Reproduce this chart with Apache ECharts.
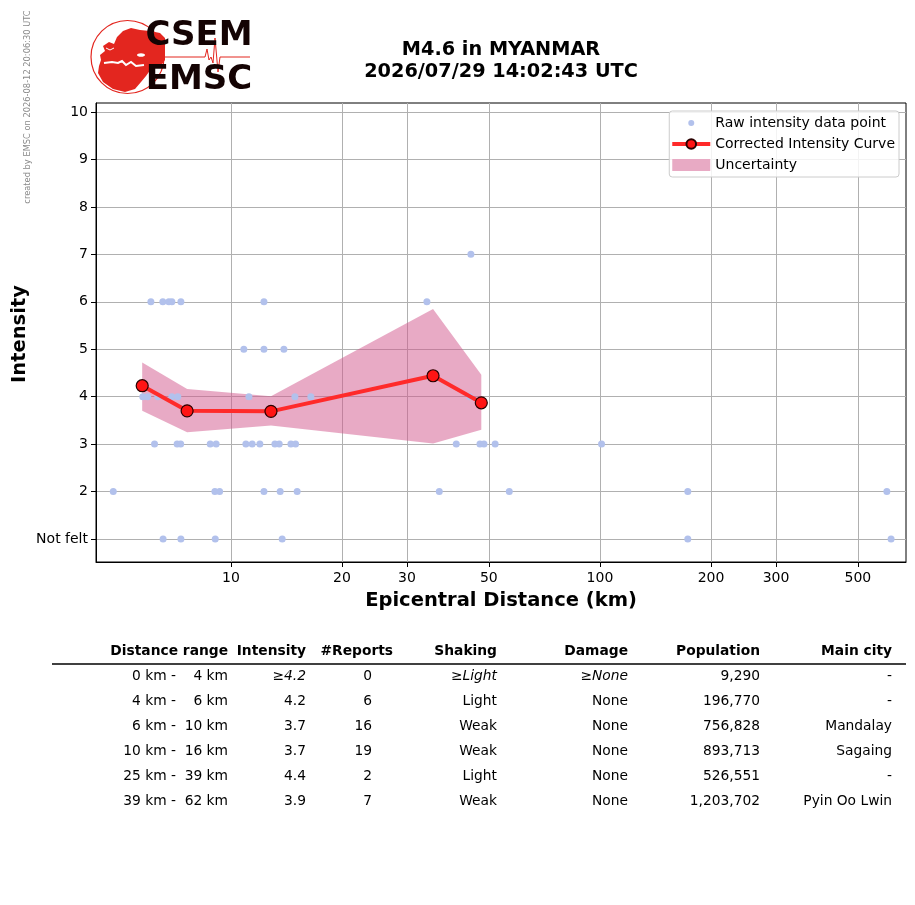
<!DOCTYPE html>
<html>
<head>
<meta charset="utf-8">
<title>M4.6 in MYANMAR</title>
<script src="https://cdn.jsdelivr.net/npm/echarts@6/dist/echarts.min.js"></script>
<style>
  html, body { margin: 0; padding: 0; background: #fff; }
  #chart { width: 915px; height: 905px; }
</style>
</head>
<body>
<div id="chart"></div>
<script>
// raw reports (distance in km, intensity)
var rawDistance = [44.7,
    6.07, 6.54, 6.79, 6.92, 7.32, 12.29, 33.97,
    10.84, 12.29, 13.92,
    5.77, 5.95, 6.34, 6.92, 7.18, 11.19, 14.91, 16.47, 44.4,
    6.21, 7.15, 7.31, 8.79, 9.12, 10.98, 11.42, 11.98, 13.16, 13.52, 14.54, 14.97, 40.8, 47.3, 48.5, 52.0, 101,
    4.80, 9.05, 9.32, 12.29, 13.60, 15.12, 36.7, 56.8, 173, 599,
    6.55, 7.32, 9.07, 13.77, 173, 615];
var rawIntensity = [7,
    6, 6, 6, 6, 6, 6, 6,
    5, 5, 5,
    4, 4, 4, 4, 4, 4, 4, 4, 4,
    3, 3, 3, 3, 3, 3, 3, 3, 3, 3, 3, 3, 3, 3, 3, 3, 3,
    2, 2, 2, 2, 2, 2, 2, 2, 2, 2,
    1, 1, 1, 1, 1, 1];

// corrected curve and its uncertainty
var curveDistance = [5.75, 7.61, 12.84, 35.3, 47.7];
var curveIntensity = [4.23, 3.70, 3.69, 4.44, 3.87];
var bandUpper = [4.72, 4.16, 4.01, 5.85, 4.46];
var bandLower = [3.70, 3.25, 3.39, 3.01, 3.30];

// axis ticks
var xTicks = [10, 20, 30, 50, 100, 200, 300, 500];
var yTicks = [1, 2, 3, 4, 5, 6, 7, 8, 9, 10];
var yTickLabels = ['Not felt', '2', '3', '4', '5', '6', '7', '8', '9', '10'];

// table
var tableHeaders = ['Distance range', 'Intensity', '#Reports', 'Shaking', 'Damage', 'Population', 'Main city'];
var rangeFrom = ['0 km -', '4 km -', '6 km -', '10 km -', '25 km -', '39 km -'];
var rangeTo = ['4 km', '6 km', '10 km', '16 km', '39 km', '62 km'];
var rangeIntensity = ['≥4.2', '4.2', '3.7', '3.7', '4.4', '3.9'];
var rangeReports = ['0', '6', '16', '19', '2', '7'];
var rangeShaking = ['≥Light', 'Light', 'Weak', 'Weak', 'Light', 'Weak'];
var rangeDamage = ['≥None', 'None', 'None', 'None', 'None', 'None'];
var rangePopulation = ['9,290', '196,770', '756,828', '893,713', '526,551', '1,203,702'];
var rangeCity = ['-', '-', 'Mandalay', 'Sagaing', '-', 'Pyin Oo Lwin'];

var FONT = '"DejaVu Sans", Verdana, sans-serif';
var RED = '#e3261f';

var chart = echarts.init(document.getElementById('chart'));

function zip(a, b) {
    var out = [];
    for (var i = 0; i < a.length; i++) out.push([a[i], b[i]]);
    return out;
}

function txt(x, y, s, font, align, extra) {
    var el = {
        type: 'text', x: x, y: y, z: 100,
        style: { text: s, font: font, fill: '#000', align: align || 'right', verticalAlign: 'middle' }
    };
    if (extra) for (var k in extra) el.style[k] = extra[k];
    return el;
}

// watermark, logo, title, y name, table
var graphics = [];
var mark = txt(28, 107, 'created by EMSC on 2026-08-12 20:06:30 UTC', '8.3px ' + FONT, 'center', { fill: '#8a8a8a' });
mark.rotation = Math.PI / 2;
graphics.push(mark);

var yName = txt(20, 334, 'Intensity', 'bold 19.5px ' + FONT, 'center');
yName.rotation = Math.PI / 2;
graphics.push(yName);

graphics.push({ type: 'circle', z: 90, shape: { cx: 127.5, cy: 57, r: 36.5 }, style: { fill: 'none', stroke: RED, lineWidth: 1.2 } });
graphics.push({
    type: 'polygon', z: 91,
    shape: { points: [[101, 60], [100, 55], [105, 51], [103, 46], [109, 42], [114, 44], [117, 37], [123, 31], [131, 28],
        [140, 30], [150, 31], [160, 33], [165, 38], [165, 60], [160, 67], [151, 69], [146, 76], [141, 82], [135, 89],
        [125, 92], [113, 89], [103, 82], [98, 73], [99, 66]] },
    style: { fill: RED }
});
graphics.push({ type: 'polyline', z: 92, shape: { points: [[104, 63], [112, 62], [118, 63], [122, 61], [126, 65], [131, 62], [136, 66], [144, 65]] }, style: { stroke: '#fff', lineWidth: 2, fill: 'none' } });
graphics.push({ type: 'ellipse', z: 92, shape: { cx: 141, cy: 55, rx: 4, ry: 1.8 }, style: { fill: '#fff' } });
graphics.push({ type: 'polyline', z: 92, shape: { points: [[106, 48], [110, 50], [114, 48]] }, style: { stroke: '#fff', lineWidth: 1, fill: 'none' } });
graphics.push({ type: 'polyline', z: 92, shape: { points: [[165, 57], [205, 57], [207, 49], [209, 60], [211, 57], [213, 63], [215, 38], [218, 72], [220, 57], [250, 57]] }, style: { stroke: RED, lineWidth: 1, fill: 'none' } });
graphics.push(txt(199, 36, 'CSEM', 'bold 34px ' + FONT, 'center', { fill: '#140303' }));
graphics.push(txt(199, 80, 'EMSC', 'bold 34px ' + FONT, 'center', { fill: '#140303' }));

graphics.push(txt(501, 50, 'M4.6 in MYANMAR', 'bold 19.3px ' + FONT, 'center'));
graphics.push(txt(501, 72, '2026/07/29 14:02:43 UTC', 'bold 19.3px ' + FONT, 'center'));

var headerRight = [228, 306, 393, 497, 628, 760, 892];
for (var h = 0; h < tableHeaders.length; h++) {
    graphics.push(txt(headerRight[h], 651, tableHeaders[h], 'bold 13.8px ' + FONT));
}
graphics.push({ type: 'line', z: 100, shape: { x1: 52, y1: 664, x2: 906, y2: 664 }, style: { stroke: '#000', lineWidth: 1.3 } });

var cols = [rangeFrom, rangeTo, rangeIntensity, rangeReports, rangeShaking, rangeDamage, rangePopulation, rangeCity];
var cellRight = [176, 228, 306, 372, 497, 628, 760, 892];
var italicCols = [2, 4, 5];
for (var r = 0; r < rangeFrom.length; r++) {
    for (var c = 0; c < cols.length; c++) {
        var italic = r === 0 && italicCols.indexOf(c) >= 0;
        graphics.push(txt(cellRight[c], 676 + r * 25, cols[c][r], (italic ? 'italic ' : '') + '13.8px ' + FONT));
    }
}

var option = {
    animation: false,
    backgroundColor: '#fff',
    textStyle: { fontFamily: FONT },
    grid: {
        left: 96, right: 9, top: 103, bottom: 343,
        containLabel: false, outerBoundsMode: 'none',
        show: true, borderColor: '#000', borderWidth: 1, backgroundColor: 'transparent'
    },
    legend: {
        orient: 'vertical',
        right: 16, top: 111,
        itemWidth: 38, itemHeight: 12, itemGap: 7,
        padding: [5, 4, 5, 1],
        borderColor: '#ccc', borderWidth: 1, borderRadius: 3,
        backgroundColor: 'rgba(255,255,255,0.85)',
        textStyle: { fontSize: 14, color: '#000', fontFamily: FONT },
        data: [
            { name: 'Raw intensity data point', icon: 'path://M0 0M38 12M16 6A3 3 0 1 0 22 6A3 3 0 1 0 16 6Z' },
            { name: 'Corrected Intensity Curve', lineStyle: { width: 4, color: '#ff2a2a' } },
            { name: 'Uncertainty', icon: 'rect' }
        ]
    },
    xAxis: {
        type: 'log', logBase: 10,
        min: 4.31, max: 675,
        name: 'Epicentral Distance (km)',
        nameLocation: 'middle', nameGap: 29,
        nameTextStyle: { fontSize: 19.5, fontWeight: 'bold', color: '#000', fontFamily: FONT },
        axisLine: { show: true, lineStyle: { color: '#000', width: 1 } },
        axisTick: { show: true, length: 5, customValues: xTicks, lineStyle: { color: '#000' } },
        axisLabel: { customValues: xTicks, fontSize: 14, color: '#000', margin: 9, fontFamily: FONT },
        splitLine: { show: true, lineStyle: { color: '#b0b0b0', width: 1 } },
        minorSplitLine: { show: false }
    },
    yAxis: {
        type: 'value',
        min: 0.514, max: 10.19,
        axisLine: { show: true, lineStyle: { color: '#000', width: 1 } },
        axisTick: { show: true, length: 5, customValues: yTicks, lineStyle: { color: '#000' } },
        axisLabel: {
            customValues: yTicks, fontSize: 14, color: '#000', margin: 8, fontFamily: FONT,
            formatter: function (v) { return yTickLabels[yTicks.indexOf(Math.round(v))]; }
        },
        splitLine: { show: true, lineStyle: { color: '#b0b0b0', width: 1 } }
    },
    series: [
        {
            name: 'Uncertainty',
            type: 'custom',
            z: 1,
            itemStyle: { color: '#e8aac4' },
            data: [[curveDistance[0], bandUpper[0]]],
            renderItem: function (params, api) {
                var pts = [];
                for (var i = 0; i < curveDistance.length; i++) pts.push(api.coord([curveDistance[i], bandUpper[i]]));
                for (var j = curveDistance.length - 1; j >= 0; j--) pts.push(api.coord([curveDistance[j], bandLower[j]]));
                return { type: 'polygon', shape: { points: pts }, style: { fill: 'rgba(210,86,140,0.5)' } };
            }
        },
        {
            name: 'Raw intensity data point',
            type: 'scatter',
            z: 2,
            symbol: 'circle', symbolSize: 7,
            itemStyle: { color: '#b2c1ec', opacity: 1 },
            data: zip(rawDistance, rawIntensity)
        },
        {
            name: 'Corrected Intensity Curve',
            type: 'line',
            z: 3,
            symbol: 'circle', symbolSize: 12,
            lineStyle: { color: '#ff2a2a', width: 4 },
            itemStyle: { color: '#ff1414', borderColor: '#2a0000', borderWidth: 1.2 },
            data: zip(curveDistance, curveIntensity)
        }
    ],
    graphic: graphics
};

chart.setOption(option);
</script>
</body>
</html>
